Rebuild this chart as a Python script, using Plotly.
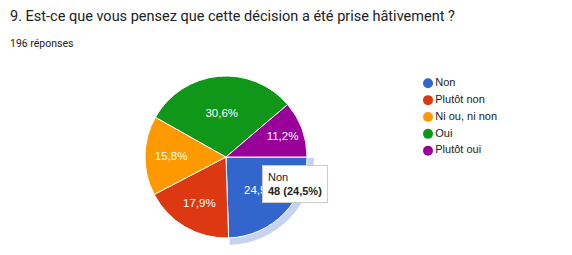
import plotly.graph_objects as go

title = "9. Est-ce que vous pensez que cette décision a été prise hâtivement ?"
subtitle = "196 réponses"
labels = ["Non", "Plutôt non", "Ni ou, ni non", "Oui", "Plutôt oui"]
counts = [48, 35, 31, 60, 22]
colors = ["#3366cc", "#dc3912", "#ff9900", "#109618", "#990099"]
highlight = "Non"

W, H = 572, 255
cx, cy, r = 226, 157, 81

def dom(cx, cy, r):
    return dict(x=[(cx - r) / W, (cx + r) / W], y=[1 - (cy + r) / H, 1 - (cy - r) / H])

hi = labels.index(highlight)
ring_colors = ["rgba(0,0,0,0)"] * len(labels)
ring_colors[hi] = "#c5d3ef"

fig = go.Figure()
# hover ring behind the highlighted slice
fig.add_trace(go.Pie(
    labels=labels, values=counts, sort=False, direction="clockwise", rotation=90,
    marker=dict(colors=ring_colors, line=dict(width=0)), textinfo="none",
    domain=dom(cx + 1, cy + 1, r + 6), showlegend=False, hoverinfo="skip"))
fig.add_trace(go.Pie(
    labels=labels, values=counts, sort=False, direction="clockwise", rotation=90,
    marker=dict(colors=colors, line=dict(color="white", width=1)),
    texttemplate="%{percent:.1%}", textposition="inside", insidetextorientation="horizontal",
    textfont=dict(family="Liberation Sans, Arial", size=11.5, color="white"),
    domain=dom(cx, cy, r), showlegend=False, hoverinfo="skip"))

# legend drawn as a scatter on hidden axes
fig.add_trace(go.Scatter(
    x=[0] * len(labels), y=list(range(len(labels))), mode="markers+text",
    marker=dict(color=colors, size=10), text=labels, textposition="middle right",
    textfont=dict(family="Liberation Sans, Arial", size=11, color="#222222"),
    cliponaxis=False, showlegend=False, hoverinfo="skip"))

tot = sum(counts)
tip = f"{labels[hi]}<br><b>{counts[hi]} ({counts[hi] / tot * 100:.1f}%)</b>".replace(".", ",")

fig.update_layout(
    width=W, height=H, margin=dict(l=0, r=0, t=0, b=0),
    paper_bgcolor="white", plot_bgcolor="white", separators=", ",
    xaxis=dict(domain=[428 / W, 1], range=[0, 10], visible=False, fixedrange=True),
    yaxis=dict(domain=[1 - 159.1 / H, 1 - 74.9 / H], range=[4.5, -0.5], visible=False),
    annotations=[
        dict(text=title, x=8 / W, y=1 - 6 / H, xref="paper", yref="paper",
             xanchor="left", yanchor="top", showarrow=False,
             font=dict(family="Roboto", size=14.5, color="#202124")),
        dict(text=subtitle, x=8 / W, y=1 - 35 / H, xref="paper", yref="paper",
             xanchor="left", yanchor="top", showarrow=False,
             font=dict(family="Roboto", size=10.5, color="#202124")),
        dict(text=tip, x=262 / W, y=1 - 165 / H, xref="paper", yref="paper",
             xanchor="left", yanchor="top", showarrow=False, align="left",
             bgcolor="white", bordercolor="#cccccc", borderwidth=1, borderpad=5,
             font=dict(family="Liberation Sans, Arial", size=11, color="#222222")),
    ],
)
fig.write_html("out.html")
